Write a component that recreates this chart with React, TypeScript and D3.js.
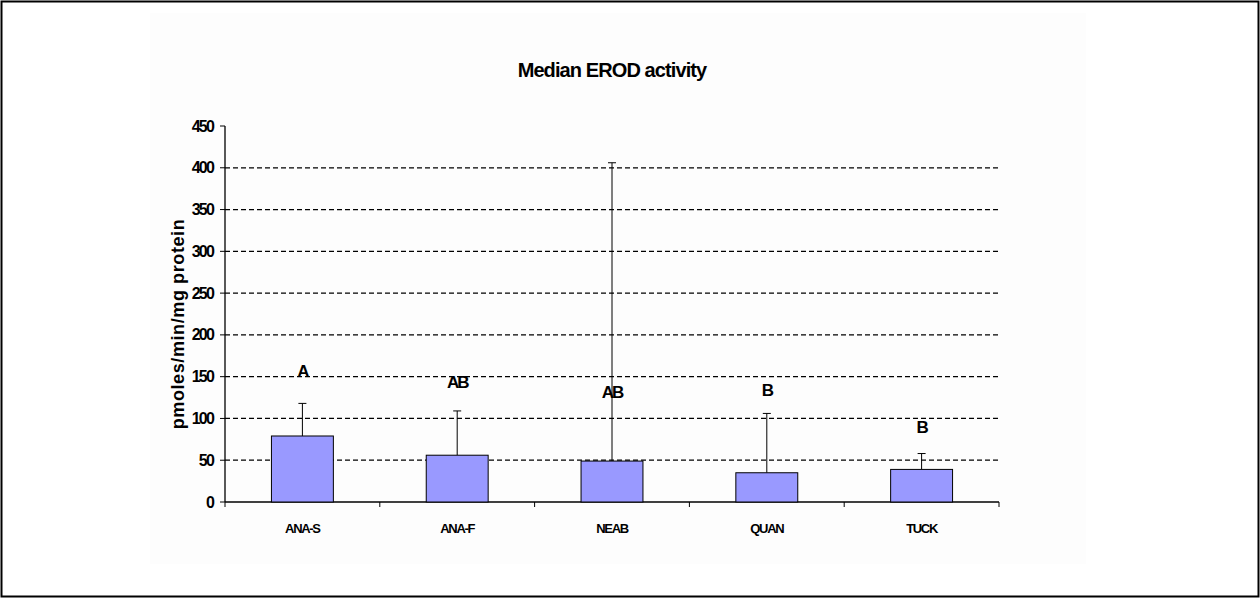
import React from "react";
import * as d3 from "d3";

const sites = ["ANA-S", "ANA-F", "NEAB", "QUAN", "TUCK"];
const medians = [79, 56, 49, 35, 39];
const upperErr = [118, 109, 406, 106, 58];
const groupLetters = ["A", "AB", "AB", "B", "B"];
// y value at which each letter's baseline sits
const letterLevels = [150, 136, 124, 127, 83];
const yTicks = [0, 50, 100, 150, 200, 250, 300, 350, 400, 450];

const W = 1260;
const H = 598;
const margin = { top: 126, right: 261, bottom: 96, left: 225 };

const App: React.FC = () => {
  const innerW = W - margin.left - margin.right;
  const innerH = H - margin.top - margin.bottom;

  const x = d3.scaleBand().domain(sites).range([0, innerW]).paddingInner(0.6).paddingOuter(0.3);
  const y = d3.scaleLinear().domain([0, 450]).range([innerH, 0]);
  const step = x.step();
  const font = "'Liberation Sans', Arial, sans-serif";

  return (
    <div style={{ position: "absolute", left: 0, top: 0 }}>
      <svg width={W} height={H} style={{ display: "block" }}>
        <rect x={0} y={0} width={W} height={H} fill="#fff" />
        <rect x={150} y={13} width={936} height={551} fill="#fdfdfd" />
        <rect x={1.5} y={1.5} width={W - 3} height={H - 3} fill="none" stroke="#000" strokeWidth={2} />
        <text x={612} y={77} textAnchor="middle" fontFamily={font} fontWeight="bold" fontSize={20} letterSpacing={-0.9}>
          Median EROD activity
        </text>
        <text
          transform={`translate(184,${margin.top + innerH / 2 + 10}) rotate(-90)`}
          textAnchor="middle"
          fontFamily={font}
          fontWeight="bold"
          fontSize={18}
          letterSpacing={0.6}
        >
          pmoles/min/mg protein
        </text>
        <g transform={`translate(${margin.left},${margin.top})`}>
          {yTicks
            .filter((t) => t > 0 && t < 450)
            .map((t) => (
              <line key={t} x1={0} x2={innerW} y1={y(t)} y2={y(t)} stroke="#000" strokeDasharray="5,3" strokeWidth={1.2} />
            ))}
          {yTicks.map((t) => (
            <g key={t} transform={`translate(0,${y(t)})`}>
              <line x1={-5} x2={0} stroke="#000" />
              <text x={-12} dy="0.35em" textAnchor="end" fontFamily={font} fontWeight="bold" fontSize={16} letterSpacing={-1.8}>
                {t}
              </text>
            </g>
          ))}
          <line x1={0} x2={0} y1={0} y2={innerH} stroke="#000" strokeWidth={1.3} />
          <line x1={0} x2={innerW} y1={innerH} y2={innerH} stroke="#000" strokeWidth={1.3} />
          {d3.range(sites.length + 1).map((i) => (
            <line key={i} x1={i * step} x2={i * step} y1={innerH} y2={innerH + 5} stroke="#000" />
          ))}
          {sites.map((s, i) => {
            const bx = x(s)!;
            const cx = bx + x.bandwidth() / 2;
            return (
              <g key={s}>
                <line x1={cx} x2={cx} y1={y(medians[i])} y2={y(upperErr[i])} stroke="#000" />
                <line x1={cx - 4} x2={cx + 4} y1={y(upperErr[i])} y2={y(upperErr[i])} stroke="#000" />
                <rect
                  x={bx}
                  y={y(medians[i])}
                  width={x.bandwidth()}
                  height={innerH - y(medians[i])}
                  fill="#9999ff"
                  stroke="#000"
                  strokeWidth={1}
                />
                <text x={cx} y={y(letterLevels[i])} textAnchor="middle" fontFamily={font} fontWeight="bold" fontSize={17} letterSpacing={-2}>
                  {groupLetters[i]}
                </text>
                <text
                  x={cx}
                  y={innerH + 31}
                  textAnchor="middle"
                  fontFamily={font}
                  fontWeight="bold"
                  fontSize={13}
                  letterSpacing={-1.3}
                >
                  {s}
                </text>
              </g>
            );
          })}
        </g>
      </svg>
    </div>
  );
};

export default App;
